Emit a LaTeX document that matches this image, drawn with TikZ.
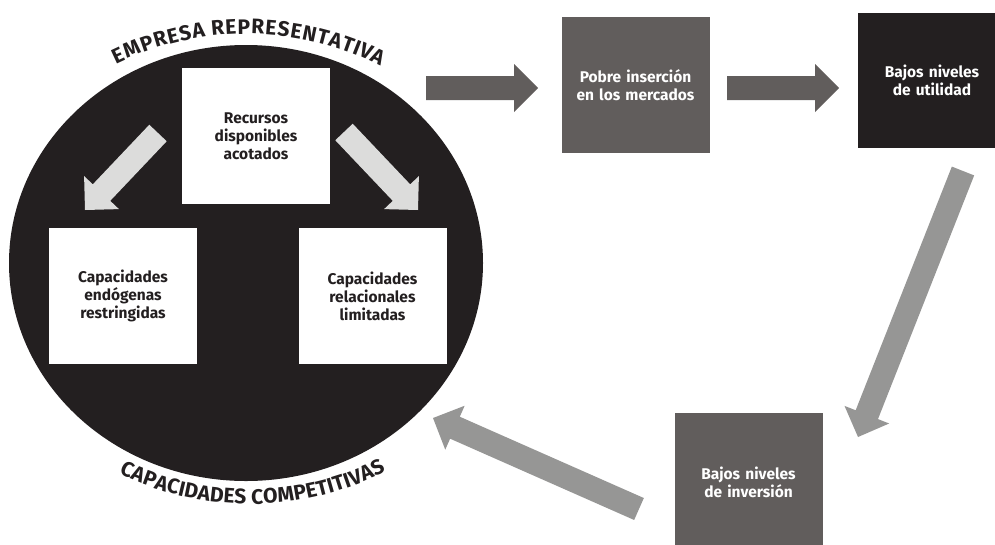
\documentclass[tikz,border=0pt]{standalone}
\usepackage{fontspec}
\setmainfont{Fira Sans}
\usetikzlibrary{calc,shapes.geometric,decorations.text}
\definecolor{ink}{HTML}{231F20}
\definecolor{midgray}{HTML}{615D5C}
\definecolor{arrgray}{HTML}{969695}
\definecolor{paleGray}{HTML}{DCDCDB}
\newcommand{\blockarrow}[3]{%
  \coordinate (bah) at ($(#3)!24pt!(#2)$);
  \fill[#1] ($(#2)!12pt!90:(#3)$) -- ($(bah)!12pt!90:(#3)$) -- ($(bah)!24pt!90:(#3)$) -- (#3)
    -- ($(bah)!24pt!-90:(#3)$) -- ($(bah)!12pt!-90:(#3)$) -- ($(#2)!12pt!-90:(#3)$) -- cycle;}
\tikzset{
  box/.style={rectangle, minimum width=148pt, minimum height=136pt, inner sep=2pt,
    align=center, text width=140pt, font=\bfseries\fontsize{15.5}{18}\selectfont},
  whitebox/.style={box, fill=white, text=ink},
  greybox/.style={box, fill=midgray, text=white},
  blackbox/.style={box, fill=ink, text=white},
  arclabel/.style={decorate, decoration={text effects along path, text={#1},
    text effects/.cd, text along path, fit text to path,
    characters={font=\bfseries\fontsize{21}{22}\selectfont, text=ink}}},
}
\begin{document}
\begin{tikzpicture}[x=1pt,y=-1pt]
\useasboundingbox (0,0) rectangle (995,544);
\clip (0,0) rectangle (995,544);
% firm
\node[ellipse, fill=ink, inner sep=0pt, minimum width=474pt, minimum height=436pt] (firm) at (246,263) {};
% curved labels
\path[arclabel={EMPRESA REPRESENTATIVA}]
  (246,331) ++(244:297) arc[start angle=244, end angle=297, radius=297];
\path[arclabel={CAPACIDADES COMPETITIVAS}]
  (250,205) ++(116:299) arc[start angle=116, end angle=63, radius=299];
% inner arrows
\coordinate (l1s) at (158,133); \coordinate (l1e) at (85,210);
\coordinate (l2s) at (344,132); \coordinate (l2e) at (418,210);
\blockarrow{paleGray}{l1s}{l1e}
\blockarrow{paleGray}{l2s}{l2e}
% boxes
\node[whitebox] (rec) at (256,136) {Recursos\\disponibles\\acotados};
\node[whitebox] (endo) at (123,296) {Capacidades\\endógenas\\restringidas};
\node[whitebox] (rel) at (372.5,296) {Capacidades\\relacionales\\limitadas};
\node[greybox] (pobre) at (635.5,85) {Pobre inserción\\en los mercados};
\node[blackbox, minimum height=135pt] (util) at (932,80.5) {Bajos niveles\\de utilidad};
\node[greybox, minimum height=138pt] (inv) at (748.5,482) {Bajos niveles\\de inversión};
% cycle arrows
\coordinate (a1s) at (426,88); \coordinate (a1e) at (538,88);
\coordinate (a2s) at (727,88); \coordinate (a2e) at (839,88);
\coordinate (a3s) at (963,171); \coordinate (a3e) at (858,437);
\coordinate (a4s) at (639,509); \coordinate (a4e) at (433,418);
\blockarrow{midgray}{a1s}{a1e}
\blockarrow{midgray}{a2s}{a2e}
\blockarrow{arrgray}{a3s}{a3e}
\blockarrow{arrgray}{a4s}{a4e}
\end{tikzpicture}
\end{document}
